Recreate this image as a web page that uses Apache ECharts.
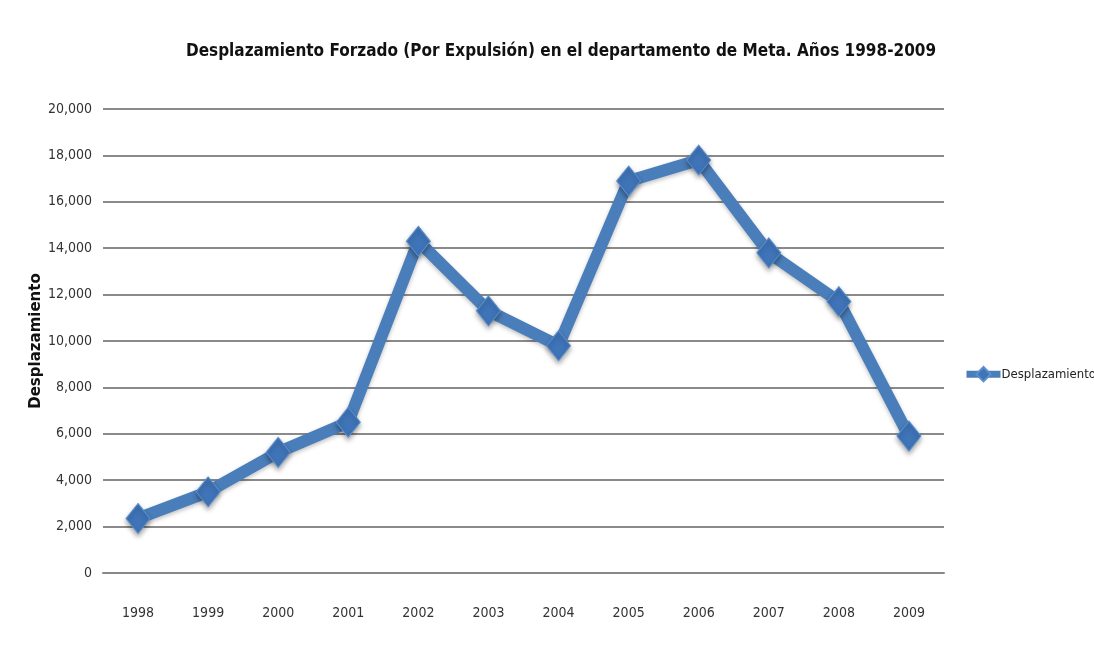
<!DOCTYPE html>
<html>
<head>
<meta charset="utf-8">
<script src="https://cdn.jsdelivr.net/npm/echarts@6/dist/echarts.min.js"></script>
<style>
  html, body { margin: 0; padding: 0; background: #fff; }
  #main { width: 1094px; height: 654px; }
</style>
</head>
<body>
<div id="main"></div>
<script>
// datos
const years = ["1998", "1999", "2000", "2001", "2002", "2003", "2004", "2005", "2006", "2007", "2008", "2009"];
const desplazamiento = [2350, 3500, 5200, 6500, 14300, 11300, 9800, 16900, 17800, 13800, 11700, 5900];

const narrow = "'DejaVu Sans Condensed', sans-serif";

const myChart = echarts.init(document.getElementById("main"));
const option = {
  backgroundColor: "#fff",
  title: {
    text: "Desplazamiento Forzado (Por Expulsión) en el departamento de Meta. Años 1998-2009",
    left: 556,
    textAlign: "center",
    top: 38,
    textStyle: {
      fontFamily: narrow,
      fontSize: 17,
      fontWeight: "bold",
      color: "#111",
    },
  },
  legend: {
    data: ["Desplazamiento"],
    left: 958,
    top: 361,
    itemWidth: 34,
    itemHeight: 18,
    itemGap: 2,
    lineStyle: { width: 7 },
    textStyle: {
      fontFamily: narrow,
      fontSize: 13,
      color: "#222",
      padding: [0, 0, 0, -4],
    },
  },
  grid: {
    left: 103,
    right: 150,
    top: 109,
    bottom: 81,
  },
  xAxis: {
    type: "category",
    data: years,
    boundaryGap: true,
    axisLine: { show: true, lineStyle: { color: "#888", width: 2 } },
    axisTick: { show: false },
    axisLabel: {
      margin: 33,
      fontFamily: narrow,
      fontSize: 14,
      color: "#333",
    },
  },
  yAxis: {
    type: "value",
    min: 0,
    max: 20000,
    interval: 2000,
    name: "Desplazamiento",
    nameLocation: "middle",
    nameGap: 59,
    nameMoveOverlap: false,
    nameTextStyle: {
      fontFamily: "DejaVu Sans",
      fontWeight: "bold",
      fontSize: 15,
      color: "#111",
    },
    axisLine: { show: false },
    axisTick: { show: false },
    axisLabel: {
      margin: 11,
      fontFamily: narrow,
      fontSize: 14,
      color: "#333",
      formatter: (v) => v.toLocaleString("en-US"),
    },
    splitLine: { lineStyle: { color: "#8a8a8a", width: 2 } },
  },
  series: [
    {
      name: "Desplazamiento",
      type: "line",
      data: desplazamiento,
      symbol: "diamond",
      symbolSize: [24, 30],
      lineStyle: {
        color: "#4a7ebb",
        width: 12,
        shadowColor: "rgba(0,0,0,0.25)",
        shadowBlur: 4,
        shadowOffsetY: 2,
      },
      itemStyle: {
        color: "#3f74b8",
        borderColor: "#5a8fcf",
        borderWidth: 1,
        shadowColor: "rgba(0,0,0,0.35)",
        shadowBlur: 5,
        shadowOffsetY: 3,
      },
    },
  ],
};
myChart.setOption(option);
</script>
</body>
</html>
